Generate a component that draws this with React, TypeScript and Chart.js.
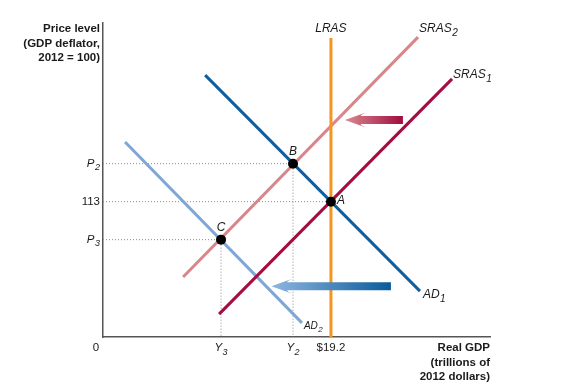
import React, { useEffect, useRef } from "react";
import { Chart, registerables } from "chart.js";

Chart.register(...registerables);

// ---- data (abstract units: x 0..100, y 0..100) ----
const LRAS_X = 58.9;
const LRAS_TOP = 95.2;
const AD1 = [ { x: 26.4, y: 83.4 }, { x: 81.9, y: 14.6 } ];
const AD2 = [ { x: 5.7, y: 62.1 }, { x: 51.4, y: 4.5 } ];
const SRAS1 = [ { x: 30.0, y: 7.3 }, { x: 90.2, y: 82.2 } ];
const SRAS2 = [ { x: 20.7, y: 19.1 }, { x: 81.4, y: 95.5 } ];
const POINT_NAMES = ["A", "B", "C"];
const POINT_X = [58.9, 49.1, 30.5];
const POINT_Y = [43.1, 55.2, 31.0];
const Y_TICK_LABELS = [ ["P", "2"], ["113", ""], ["P", "3"] ];
const Y_TICK_VALUES = [55.2, 43.1, 31.0];
const X_TICK_LABELS = [ ["0", ""], ["Y", "3"], ["Y", "2"], ["$19.2", ""] ];
const X_TICK_VALUES = [-1.8, 30.5, 49.1, 58.9];
// arrows: [tipX, tailX, y]
const ARROW_SRAS = [62.5, 77.5, 69.1];
const ARROW_AD = [43.5, 74.4, 16.2];

const FONT = "'Liberation Sans', Arial, Helvetica, sans-serif";

function drawSub(ctx: CanvasRenderingContext2D, main: string, sub: string, x: number, y: number, align: "left" | "right" | "center", size: number, italic: boolean) {
  const f1 = `${italic ? "italic " : ""}${size}px ${FONT}`;
  const f2 = `${italic ? "italic " : ""}${Math.round(size * 0.8)}px ${FONT}`;
  ctx.font = f1;
  const w1 = ctx.measureText(main).width;
  ctx.font = f2;
  const w2 = sub ? ctx.measureText(sub).width + 0.5 : 0;
  const total = w1 + w2;
  let left = x;
  if (align === "right") left = x - total;
  else if (align === "center") left = x - total / 2;
  ctx.textAlign = "left";
  ctx.textBaseline = "middle";
  ctx.font = f1;
  ctx.fillText(main, left, y);
  if (sub) {
    ctx.font = f2;
    ctx.fillText(sub, left + w1 + 0.5, y + size * 0.35);
  }
}

function drawArrow(ctx: CanvasRenderingContext2D, tip: number, tail: number, y: number, cLight: string, cDark: string) {
  const shaft = 4;
  const headLen = 21;
  const headHalf = 7.5;
  const g = ctx.createLinearGradient(tip, 0, tail, 0);
  g.addColorStop(0, cLight);
  g.addColorStop(1, cDark);
  ctx.fillStyle = g;
  ctx.beginPath();
  ctx.moveTo(tip, y);
  ctx.lineTo(tip + headLen, y - headHalf);
  ctx.quadraticCurveTo(tip + headLen - 6, y - shaft - 1, tip + headLen - 5, y - shaft);
  ctx.lineTo(tail, y - shaft);
  ctx.lineTo(tail, y + shaft);
  ctx.lineTo(tip + headLen - 5, y + shaft);
  ctx.quadraticCurveTo(tip + headLen - 6, y + shaft + 1, tip + headLen, y + headHalf);
  ctx.closePath();
  ctx.fill();
}

const labelsPlugin = {
  id: "labels",
  afterDatasetsDraw(chart: any) {
    const ctx: CanvasRenderingContext2D = chart.ctx;
    const xs = chart.scales.x;
    const ys = chart.scales.y;
    ctx.save();
    // arrows
    drawArrow(ctx, xs.getPixelForValue(ARROW_SRAS[0]), xs.getPixelForValue(ARROW_SRAS[1]), ys.getPixelForValue(ARROW_SRAS[2]), "#d98a92", "#a10d3e");
    drawArrow(ctx, xs.getPixelForValue(ARROW_AD[0]), xs.getPixelForValue(ARROW_AD[1]), ys.getPixelForValue(ARROW_AD[2]), "#8fb5e0", "#0a5b9a");
    // points on top
    ctx.fillStyle = "#000";
    for (let i = 0; i < POINT_X.length; i++) {
      ctx.beginPath();
      ctx.arc(xs.getPixelForValue(POINT_X[i]), ys.getPixelForValue(POINT_Y[i]), 5, 0, Math.PI * 2);
      ctx.fill();
    }
    ctx.fillStyle = "#1a1a1a";
    // point labels
    const pa = { x: xs.getPixelForValue(POINT_X[0]), y: ys.getPixelForValue(POINT_Y[0]) };
    const pb = { x: xs.getPixelForValue(POINT_X[1]), y: ys.getPixelForValue(POINT_Y[1]) };
    const pc = { x: xs.getPixelForValue(POINT_X[2]), y: ys.getPixelForValue(POINT_Y[2]) };
    drawSub(ctx, POINT_NAMES[0], "", pa.x + 6, pa.y - 1, "left", 12, true);
    drawSub(ctx, POINT_NAMES[1], "", pb.x, pb.y - 12, "center", 12, true);
    drawSub(ctx, POINT_NAMES[2], "", pc.x, pc.y - 12, "center", 12, true);
    // curve labels
    const lx = xs.getPixelForValue(LRAS_X);
    const lt = ys.getPixelForValue(LRAS_TOP);
    drawSub(ctx, "LRAS", "", lx, lt - 9, "center", 12, true);
    drawSub(ctx, "SRAS", "2", xs.getPixelForValue(SRAS2[1].x) + 1, ys.getPixelForValue(SRAS2[1].y) - 8, "left", 12, true);
    drawSub(ctx, "SRAS", "1", xs.getPixelForValue(SRAS1[1].x) + 1, ys.getPixelForValue(SRAS1[1].y) - 4, "left", 12, true);
    drawSub(ctx, "AD", "1", xs.getPixelForValue(AD1[1].x) + 3, ys.getPixelForValue(AD1[1].y) + 4, "left", 12, true);
    drawSub(ctx, "AD", "2", xs.getPixelForValue(AD2[1].x) + 2, ys.getPixelForValue(AD2[1].y) + 3, "left", 10, true);
    // y tick labels
    for (let i = 0; i < Y_TICK_VALUES.length; i++) {
      const [m, s] = Y_TICK_LABELS[i];
      drawSub(ctx, m, s, 100, ys.getPixelForValue(Y_TICK_VALUES[i]), "right", 11.5, m === "P");
    }
    // x tick labels
    const xy = chart.chartArea.bottom + 11;
    for (let i = 0; i < X_TICK_VALUES.length; i++) {
      const [m, s] = X_TICK_LABELS[i];
      drawSub(ctx, m, s, xs.getPixelForValue(X_TICK_VALUES[i]), xy, "center", 11.5, m === "Y");
    }
    // axis titles
    ctx.font = `bold 11.5px ${FONT}`;
    ctx.textAlign = "right";
    ctx.textBaseline = "middle";
    const yt = ["Price level", "(GDP deflator,", "2012 = 100)"];
    yt.forEach((t, i) => ctx.fillText(t, 100, 29 + i * 14.5));
    const xt = ["Real GDP", "(trillions of", "2012 dollars)"];
    xt.forEach((t, i) => ctx.fillText(t, chart.chartArea.right, xy + i * 14.5));
    ctx.restore();
  },
};

export default function App() {
  const ref = useRef<HTMLCanvasElement>(null);
  useEffect(() => {
    if (!ref.current) return;
    const dotted = { borderColor: "#8a8a8a", borderWidth: 1, borderDash: [1, 2], pointRadius: 0, showLine: true, fill: false };
    const solid = (c: string) => ({ borderColor: c, borderWidth: 3, pointRadius: 0, showLine: true, fill: false, borderCapStyle: "butt" as const });
    const chart = new Chart(ref.current, {
      type: "scatter",
      data: {
        datasets: [
          { label: "LRAS", data: [{ x: LRAS_X, y: 0 }, { x: LRAS_X, y: LRAS_TOP }], ...solid("#f7941d") },
          { label: "AD1", data: AD1, ...solid("#0f5fa0") },
          { label: "SRAS1", data: SRAS1, ...solid("#a50d40") },
          { label: "SRAS2", data: SRAS2, ...solid("#d9868b") },
          { label: "AD2", data: AD2, ...solid("#7fa6d6") },
          { label: "gA", data: [{ x: 0, y: POINT_Y[0] }, { x: POINT_X[0], y: POINT_Y[0] }], ...dotted },
          { label: "gB", data: [{ x: 0, y: POINT_Y[1] }, { x: POINT_X[1], y: POINT_Y[1] }, { x: POINT_X[1], y: 0 }], ...dotted },
          { label: "gC", data: [{ x: 0, y: POINT_Y[2] }, { x: POINT_X[2], y: POINT_Y[2] }, { x: POINT_X[2], y: 0 }], ...dotted },
        ],
      },
      options: {
        animation: false,
        responsive: true,
        maintainAspectRatio: false,
        layout: { padding: { left: 103, top: 23, right: 74, bottom: 52 } },
        plugins: { legend: { display: false }, tooltip: { enabled: false } },
        scales: {
          x: { type: "linear", min: 0, max: 100, ticks: { display: false }, grid: { display: false, drawTicks: false }, border: { display: true, color: "#555555", width: 1.5 } },
          y: { type: "linear", min: 0, max: 100, ticks: { display: false }, grid: { display: false, drawTicks: false }, border: { display: true, color: "#555555", width: 1.5 } },
        },
      },
      plugins: [labelsPlugin],
    });
    return () => chart.destroy();
  }, []);
  return (
    <div style={{ position: "fixed", left: 0, top: 0, width: 564, height: 389, background: "#fff" }}>
      <canvas ref={ref} />
    </div>
  );
}
